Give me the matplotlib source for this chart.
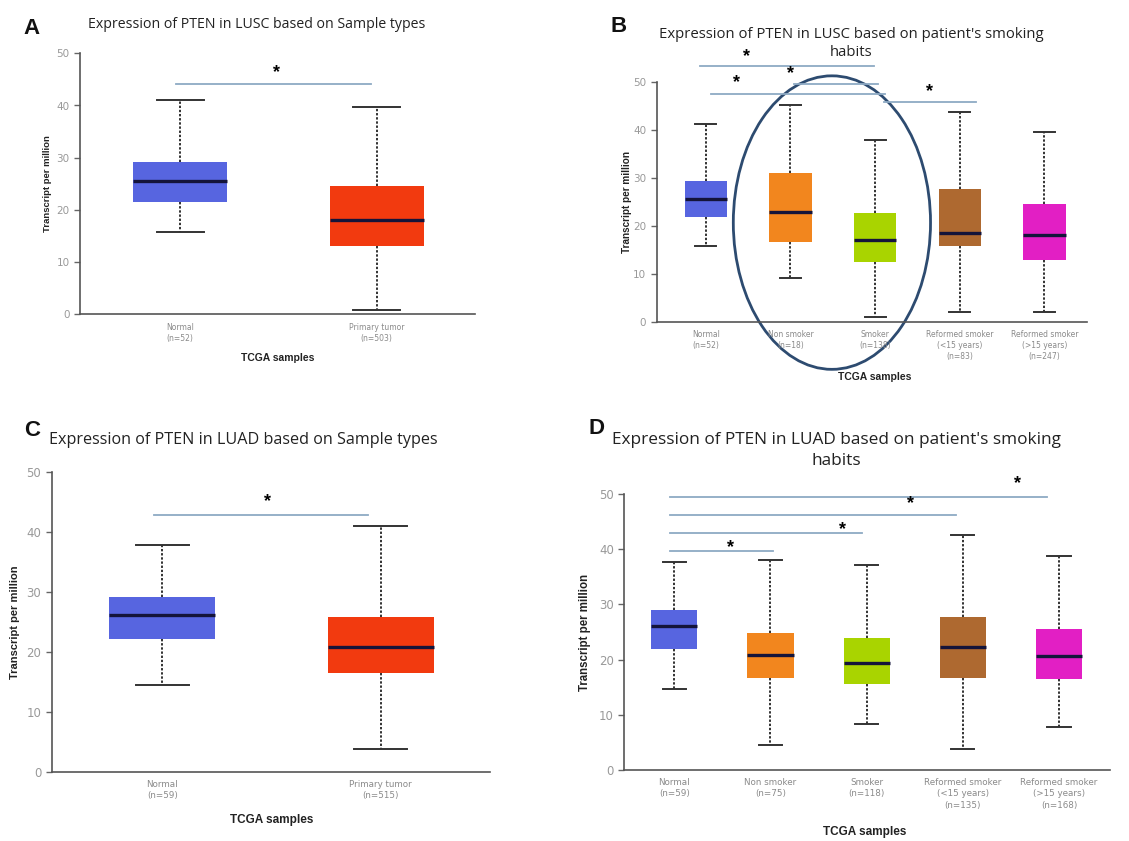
import matplotlib
matplotlib.use("Agg")
import matplotlib.pyplot as plt
from matplotlib.patches import Ellipse

# ---- data ----
# panel A: LUSC, sample types
a_labels = ["Normal\n(n=52)", "Primary tumor\n(n=503)"]
a_whishi = [41.1, 39.8]
a_q3 = [29.1, 24.6]
a_med = [25.6, 18.1]
a_q1 = [21.6, 13.0]
a_whislo = [15.7, 0.8]

# panel B: LUSC, smoking habits
b_labels = ["Normal\n(n=52)", "Non smoker\n(n=18)", "Smoker\n(n=138)",
            "Reformed smoker\n(<15 years)\n(n=83)", "Reformed smoker\n(>15 years)\n(n=247)"]
b_whishi = [41.3, 45.2, 38.0, 43.8, 39.6]
b_q3 = [29.3, 31.0, 22.8, 27.7, 24.6]
b_med = [25.7, 23.0, 17.1, 18.5, 18.1]
b_q1 = [21.8, 16.7, 12.5, 15.8, 12.9]
b_whislo = [15.9, 9.2, 1.0, 2.1, 2.0]

# panel C: LUAD, sample types
c_labels = ["Normal\n(n=59)", "Primary tumor\n(n=515)"]
c_whishi = [37.8, 41.0]
c_q3 = [29.1, 25.9]
c_med = [26.1, 20.8]
c_q1 = [22.2, 16.5]
c_whislo = [14.5, 3.8]

# panel D: LUAD, smoking habits
d_labels = ["Normal\n(n=59)", "Non smoker\n(n=75)", "Smoker\n(n=118)",
            "Reformed smoker\n(<15 years)\n(n=135)", "Reformed smoker\n(>15 years)\n(n=168)"]
d_whishi = [37.7, 38.0, 37.1, 42.6, 38.8]
d_q3 = [29.0, 24.8, 23.9, 27.7, 25.5]
d_med = [26.1, 20.8, 19.4, 22.2, 20.7]
d_q1 = [22.0, 16.7, 15.6, 16.7, 16.5]
d_whislo = [14.6, 4.5, 8.4, 3.8, 7.7]

# significance bars: (x start, x end, height, star x, star y)
a_sig = [(0.98, 1.97, 44.1, 1.49, 46.7)]
b_sig = [(0.93, 2.99, 53.4, 1.48, 55.8),
         (1.06, 3.12, 47.6, 1.36, 50.3),
         (2.04, 3.03, 49.7, 2.00, 52.3),
         (3.10, 4.19, 45.8, 3.64, 48.5)]
c_sig = [(0.96, 1.94, 42.9, 1.48, 45.5)]
d_sig = [(0.96, 2.03, 39.6, 1.58, 40.6),
         (0.96, 2.95, 42.9, 2.75, 44.0),
         (0.96, 3.93, 46.2, 3.46, 48.6),
         (0.96, 4.87, 49.5, 4.57, 52.3)]

two_colors = ["#5765e0", "#f23a0f"]
five_colors = ["#5765e0", "#f2861e", "#a9d400", "#ae6930", "#e21fc4"]

W, H = 1129, 841
fig = plt.figure(figsize=(W / 100, H / 100), dpi=100)


def px_axes(left, right, top, bottom):
    return fig.add_axes([left / W, 1 - bottom / H, (right - left) / W, (bottom - top) / H])


def draw_panel(ax, labels, whislo, q1, med, q3, whishi, colors, sig, xlim,
               width, tick_fs, ytick_fs):
    stats = []
    for i in range(len(labels)):
        stats.append(dict(whislo=whislo[i], q1=q1[i], med=med[i], q3=q3[i],
                          whishi=whishi[i], fliers=[]))
    bp = ax.bxp(stats, positions=range(1, len(labels) + 1), widths=width,
                patch_artist=True, showfliers=False,
                boxprops=dict(linewidth=0),
                medianprops=dict(color="#14143a", linewidth=2.4),
                whiskerprops=dict(color="#222222", linewidth=1.3, linestyle=(0, (1.3, 1.0))),
                capprops=dict(color="#333333", linewidth=1.4),
                capwidths=width * 0.5)
    for patch, col in zip(bp["boxes"], colors):
        patch.set_facecolor(col)
        patch.set_edgecolor(col)
    for (x0, x1, y, sx, sy) in sig:
        ax.plot([x0, x1], [y, y], color="#8eaac4", linewidth=1.3, clip_on=False)
        ax.text(sx, sy, "*", ha="center", va="center_baseline", fontsize=13,
                fontweight="bold", family="Liberation Sans", color="black", clip_on=False)
    ax.set_xlim(*xlim)
    ax.set_ylim(0, 50)
    ax.set_yticks([0, 10, 20, 30, 40, 50])
    ax.set_xticks(range(1, len(labels) + 1))
    ax.set_xticklabels(labels, fontsize=tick_fs, color="#8a8a8a", linespacing=1.3)
    ax.tick_params(axis="x", length=0, pad=6)
    ax.tick_params(axis="y", labelsize=ytick_fs, labelcolor="#999999", color="#666666",
                   length=4, width=1)
    for s in ["top", "right"]:
        ax.spines[s].set_visible(False)
    for s in ["left", "bottom"]:
        ax.spines[s].set_color("#555555")
        ax.spines[s].set_linewidth(1.2)
    ax.patch.set_alpha(0)


axA = px_axes(80, 475, 53.3, 314.3)
draw_panel(axA, a_labels, a_whislo, a_q1, a_med, a_q3, a_whishi, two_colors, a_sig,
           (0.49, 2.5), 0.48, 5.5, 7.5)
axB = px_axes(656.7, 1086.7, 82.3, 321.7)
draw_panel(axB, b_labels, b_whislo, b_q1, b_med, b_q3, b_whishi, five_colors, b_sig,
           (0.42, 5.5), 0.5, 5.5, 7.5)
axC = px_axes(51.7, 490, 472.3, 771.7)
draw_panel(axC, c_labels, c_whislo, c_q1, c_med, c_q3, c_whishi, two_colors, c_sig,
           (0.494, 2.5), 0.486, 6.3, 8.5)
axD = px_axes(624.3, 1110, 494, 770)
draw_panel(axD, d_labels, d_whislo, d_q1, d_med, d_q3, d_whishi, five_colors, d_sig,
           (0.48, 5.53), 0.48, 6.3, 8.5)

# circled group in panel B
axB.add_patch(Ellipse((2.49, 20.7), 2.33, 61.3, fill=False, edgecolor="#2d4b70",
                      linewidth=2.0, clip_on=False))


def ftext(x, y, s, **kw):
    fig.text(x / W, 1 - y / H, s, **kw)


# panel letters
for (x, y, s) in [(32, 28, "A"), (619, 27, "B"), (32, 430, "C"), (597, 428, "D")]:
    ftext(x, y, s, ha="center", va="center", fontsize=16, fontweight="bold",
          family="Liberation Sans", color="#111111")

# titles (one text per line)
title_font = dict(ha="center", va="center", family="Open Sans", color="#222222")
ftext(257, 25, "Expression of PTEN in LUSC based on Sample types", fontsize=10.2, **title_font)
ftext(851, 35, "Expression of PTEN in LUSC based on patient's smoking", fontsize=10.7, **title_font)
ftext(851, 52, "habits", fontsize=10.7, **title_font)
ftext(243, 440, "Expression of PTEN in LUAD based on Sample types", fontsize=11.6, **title_font)
ftext(836, 440, "Expression of PTEN in LUAD based on patient's smoking", fontsize=12.4, **title_font)
ftext(836, 461, "habits", fontsize=12.4, **title_font)

# axis labels
for (x, y, fs) in [(47, 184, 6.8), (627, 202, 7.2), (15, 622, 8.0), (585, 632, 8.3)]:
    ftext(x, y, "Transcript per million", ha="center", va="center", rotation=90,
          fontsize=fs, fontweight="bold", family="Liberation Sans", color="#222222")
for (x, y, fs) in [(278, 358, 7.5), (875, 377, 7.5), (272, 820, 8.5), (865, 832, 8.5)]:
    ftext(x, y, "TCGA samples", ha="center", va="center", fontsize=fs,
          fontweight="bold", family="Liberation Sans", color="#222222")

fig.savefig("out.png", dpi=100, facecolor="white")
